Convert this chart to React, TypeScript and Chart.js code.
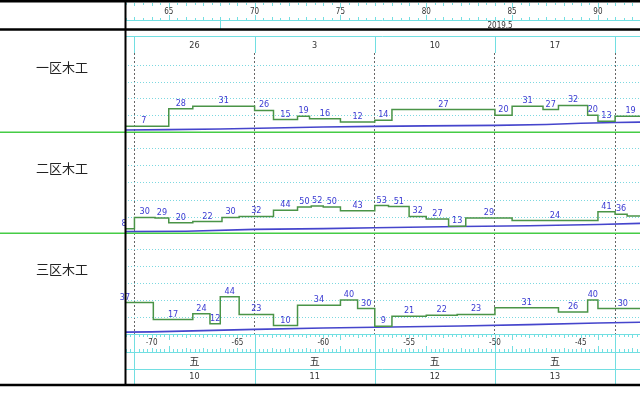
import React, { useEffect, useRef } from "react";
import { Chart, registerables } from "chart.js";

Chart.register(...registerables);

// ---------------- data ----------------
const rowNames = ["一区木工", "二区木工", "三区木工"];

// step boundaries (project day) and the value held on each step
const row1Breaks = [62.1, 65, 66.4, 70, 71.1, 72.5, 73.2, 75, 77, 78, 84, 85, 86.8, 87.7, 89.4, 90, 91, 92.8];
const row1Values = [7, 28, 31, 26, 15, 19, 16, 12, 14, 27, 20, 31, 27, 32, 20, 13, 19];

const row2Breaks = [61.8, 63, 64.2, 65, 66.4, 68.1, 69.1, 71.1, 72.5, 73.3, 74, 75, 77, 77.8, 79, 80, 81.3, 82.3, 85, 90, 91, 91.7, 94];
const row2Values = [8, 30, 29, 20, 22, 30, 32, 44, 50, 52, 50, 43, 53, 51, 32, 27, 13, 29, 24, 41, 36, 33];

const row3Breaks = [60.8, 64.1, 66.4, 67.4, 68, 69.1, 71.1, 72.5, 75, 76, 77, 78, 80, 81.8, 84, 87.7, 89.4, 90, 92.9];
const row3Values = [37, 17, 24, 12, 44, 23, 10, 34, 40, 30, 9, 21, 22, 23, 31, 26, 40, 30];

// slowly rising blue line in each row
const row1CumDays = [62, 65, 68, 71, 74, 77, 80, 84, 87, 89, 91, 93];
const row1CumValues = [2.4, 2.8, 3.6, 4.8, 6, 6.8, 7.4, 8, 9, 10.5, 11.5, 12];
const row2CumDays = [62, 66, 70, 74, 77, 82, 86, 90, 93];
const row2CumValues = [2.5, 3.5, 7, 8.5, 10, 12.5, 14, 16.5, 19];
const row3CumDays = [60.8, 64, 67, 70, 74, 77, 82, 86, 90, 93];
const row3CumValues = [2, 2.5, 4, 5.5, 7, 8, 9.5, 11, 13, 14];

// per-row value range and grid values
const rowMax = [95, 195, 119];
const row1Grid = [20, 40, 60, 80];
const row2Grid = [30, 63.4, 96.8, 130.2, 163.6];
const row3Grid = [20, 40, 60, 80, 100];

// time axis
const xMin = 62.45;
const xMax = 92.45;
const weekStartDays = [63, 70, 77, 84, 91];
const weekTopLabels = ["26", "3", "10", "17"];
const weekDayLabels = ["五", "五", "五", "五"];
const weekNumLabels = ["10", "11", "12", "13"];
const topRulerLabels = [65, 70, 75, 80, 85, 90];
const bottomRulerLabels = [-70, -65, -60, -55, -50, -45];
const bottomRulerOffset = 134;
const monthLabel = "2019.5";
const monthStartDay = 68;
const monthLabelDay = 84.3;

// ---------------- styling ----------------
const CYAN = "#72dfe2";
const GRID_CYAN = "#7cd8e0";
const STEP_GREEN = "#4a9447";
const SEP_GREEN = "#45cc45";
const BLUE_LINE = "#4545cc";
const LABEL_BLUE = "#3a3ad2";
const NARROW = '"Liberation Sans Narrow", "DejaVu Sans Condensed", "Arial Narrow", sans-serif';

const rows = [
  { name: rowNames[0], breaks: row1Breaks, values: row1Values, cd: row1CumDays, cv: row1CumValues, axis: "y1" },
  { name: rowNames[1], breaks: row2Breaks, values: row2Values, cd: row2CumDays, cv: row2CumValues, axis: "y2" },
  { name: rowNames[2], breaks: row3Breaks, values: row3Values, cd: row3CumDays, cv: row3CumValues, axis: "y3" },
];

function stepPoints(breaks: number[], values: number[]) {
  return breaks.map((b, i) => ({ x: b, y: values[Math.min(i, values.length - 1)] }));
}
function linePoints(days: number[], vals: number[]) {
  return days.map((d, i) => ({ x: d, y: vals[i] }));
}

function hLine(ctx: any, x1: number, x2: number, y: number) {
  ctx.beginPath();
  ctx.moveTo(x1, y);
  ctx.lineTo(x2, y);
  ctx.stroke();
}
function vLine(ctx: any, x: number, y1: number, y2: number) {
  ctx.beginPath();
  ctx.moveTo(x, y1);
  ctx.lineTo(x, y2);
  ctx.stroke();
}

function drawRuler(ctx: any, xs: any, top: number, bottom: number, step: number, small: number, mid: number, big: number) {
  ctx.strokeStyle = CYAN;
  ctx.lineWidth = 1;
  const start = Math.ceil(xMin / step) * step;
  for (let d = start; d <= xMax + 1e-6; d += step) {
    const px = Math.round(xs.getPixelForValue(d)) + 0.5;
    const rd = Math.round(d);
    const isDay = Math.abs(d - rd) < 1e-6;
    const len = isDay ? (rd % 5 === 0 ? big : mid) : small;
    vLine(ctx, px, top, top + len);
    vLine(ctx, px, bottom, bottom - len);
  }
}

const decorPlugin = {
  id: "decor",
  afterDatasetsDraw(chart: any) {
    const ctx = chart.ctx;
    const xs = chart.scales.x;
    const area = chart.chartArea;
    ctx.save();
    ctx.beginPath();
    ctx.rect(area.left - 6, area.top, area.right - area.left + 6, area.bottom - area.top);
    ctx.clip();
    ctx.font = "9px " + NARROW;
    ctx.fillStyle = LABEL_BLUE;
    ctx.textAlign = "center";
    ctx.textBaseline = "alphabetic";
    rows.forEach((r) => {
      const ys = chart.scales[r.axis];
      r.values.forEach((v, i) => {
        const mid = (r.breaks[i] + r.breaks[i + 1]) / 2;
        ctx.fillText(String(v), xs.getPixelForValue(mid), ys.getPixelForValue(v) - 3);
      });
    });
    ctx.restore();
  },
  afterDraw(chart: any) {
    const ctx = chart.ctx;
    const xs = chart.scales.x;
    const area = chart.chartArea;
    const W = chart.width;
    const L = area.left;
    const px = (d: number) => xs.getPixelForValue(d);
    ctx.save();

    // green separators between rows
    ctx.strokeStyle = SEP_GREEN;
    ctx.lineWidth = 1.5;
    ["y1", "y2"].forEach((id) => hLine(ctx, 0, W, Math.round(chart.scales[id].bottom) + 0.25));

    // ---- header ----
    ctx.save();
    ctx.beginPath();
    ctx.rect(L, 0, W - L, area.top);
    ctx.clip();
    drawRuler(ctx, xs, 3, 20, 0.5, 2, 3, 5);
    ctx.strokeStyle = CYAN;
    ctx.lineWidth = 1;
    hLine(ctx, L, W, 20.5);
    vLine(ctx, Math.round(px(monthStartDay)) + 0.5, 20, 30);
    hLine(ctx, L, W, 36.5);
    hLine(ctx, L, W, 53.5);
    weekStartDays.forEach((d) => vLine(ctx, Math.round(px(d)) + 0.5, 36, 53));
    ctx.fillStyle = "#333";
    ctx.textAlign = "center";
    ctx.textBaseline = "middle";
    ctx.font = "8px " + NARROW;
    topRulerLabels.forEach((v) => ctx.fillText(String(v), px(v), 11.5));
    ctx.fillText(monthLabel, px(monthLabelDay), 26);
    ctx.font = "9px " + NARROW;
    weekTopLabels.forEach((t, i) => ctx.fillText(t, px(weekStartDays[i] + 3.5), 46));
    ctx.restore();

    // ---- footer ----
    ctx.save();
    ctx.beginPath();
    ctx.rect(L, area.bottom, W - L, chart.height - area.bottom);
    ctx.clip();
    drawRuler(ctx, xs, 334, 352, 0.25, 3, 4, 6);
    ctx.strokeStyle = CYAN;
    ctx.lineWidth = 1;
    hLine(ctx, L, W, 334.5);
    hLine(ctx, L, W, 352.5);
    hLine(ctx, L, W, 369.5);
    weekStartDays.forEach((d) => vLine(ctx, Math.round(px(d)) + 0.5, 334, 384));
    ctx.fillStyle = "#333";
    ctx.textAlign = "center";
    ctx.textBaseline = "middle";
    ctx.font = "8px " + NARROW;
    bottomRulerLabels.forEach((v) => ctx.fillText(String(v), px(v + bottomRulerOffset), 343));
    ctx.font = '10px "Noto Sans CJK SC", sans-serif';
    weekDayLabels.forEach((t, i) => ctx.fillText(t, px(weekStartDays[i] + 3.5), 361));
    ctx.font = "9px " + NARROW;
    weekNumLabels.forEach((t, i) => ctx.fillText(t, px(weekStartDays[i] + 3.5), 377));
    ctx.restore();

    // ---- frame ----
    ctx.strokeStyle = "#000";
    ctx.lineWidth = 2.5;
    hLine(ctx, 0, W, 1.25);
    hLine(ctx, 0, W, 29.5);
    hLine(ctx, 0, W, 385);
    ctx.lineWidth = 2;
    vLine(ctx, L + 0.5, 0, 386);

    // row names
    ctx.fillStyle = "#222";
    ctx.font = '13px "Noto Sans CJK SC", sans-serif';
    ctx.textAlign = "center";
    ctx.textBaseline = "middle";
    rows.forEach((r) => {
      const ys = chart.scales[r.axis];
      ctx.fillText(r.name, 62, ys.bottom - 65);
    });
    ctx.restore();
  },
};

function yAxis(max: number, grid: number[], weight: number, stackWeight: number) {
  return {
    type: "linear",
    position: "left",
    stack: "rows",
    stackWeight,
    weight,
    min: 0,
    max,
    afterBuildTicks: (s: any) => {
      s.ticks = grid.map((v) => ({ value: v }));
    },
    ticks: { display: false },
    grid: { color: GRID_CYAN, lineWidth: 1, drawTicks: false },
    border: { display: false, dash: [1, 2] },
  };
}

export default function App() {
  const ref = useRef<HTMLCanvasElement | null>(null);

  useEffect(() => {
    document.body.style.margin = "0";
    const canvas = ref.current;
    if (!canvas) return;
    const datasets: any[] = [];
    rows.forEach((r) => {
      datasets.push({
        data: stepPoints(r.breaks, r.values),
        stepped: "before",
        borderColor: STEP_GREEN,
        borderWidth: 1.5,
        pointRadius: 0,
        fill: false,
        yAxisID: r.axis,
        xAxisID: "x",
      });
      datasets.push({
        data: linePoints(r.cd, r.cv),
        borderColor: BLUE_LINE,
        borderWidth: 1.6,
        pointRadius: 0,
        fill: false,
        tension: 0,
        yAxisID: r.axis,
        xAxisID: "x",
      });
    });

    const chart = new Chart(canvas, {
      type: "line",
      data: { datasets },
      options: {
        animation: false,
        responsive: false,
        devicePixelRatio: 1,
        layout: { padding: { left: 125, top: 53, right: 0, bottom: 59 } },
        plugins: { legend: { display: false }, tooltip: { enabled: false } },
        scales: {
          x: {
            type: "linear",
            position: "bottom",
            min: xMin,
            max: xMax,
            afterBuildTicks: (s: any) => {
              s.ticks = weekStartDays.map((v) => ({ value: v }));
            },
            ticks: { display: false },
            grid: { color: "#666", lineWidth: 1, drawTicks: false },
            border: { display: false, dash: [2, 2] },
          },
          y1: yAxis(rowMax[0], row1Grid, 3, 79),
          y2: yAxis(rowMax[1], row2Grid, 2, 101),
          y3: yAxis(rowMax[2], row3Grid, 1, 101),
        } as any,
      },
      plugins: [decorPlugin],
    } as any);

    return () => chart.destroy();
  }, []);

  return (
    <div style={{ position: "fixed", left: 0, top: 0, width: 640, height: 393, background: "#fff" }}>
      <canvas ref={ref} width={640} height={393} style={{ display: "block" }} />
    </div>
  );
}
